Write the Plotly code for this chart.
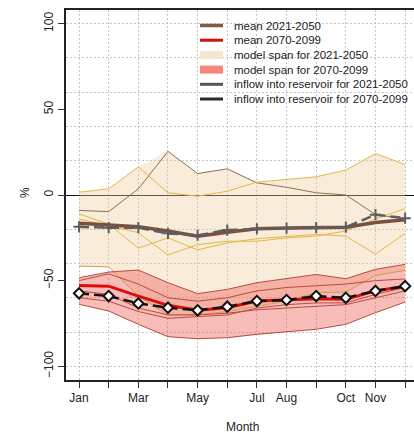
import plotly.graph_objects as go

# ---- data -------------------------------------------------------------
months = list(range(1, 13))
month_labels = ["Jan", "", "Mar", "", "May", "", "Jul", "Aug", "", "Oct", "Nov", ""]

# ensemble members, 2021-2050 (% change)
models_2021 = [
    [-9, -9.7, 3.6, 25.5, 12.5, 15.3, 7.1, 4.5, 1.3, 0, -11.4, -14],
    [1.6, 3.6, 16.4, 1.3, -0.7, 2.2, 7.5, 9, 10.6, 14.5, 24.2, 17.8],
    [-11, -17, -31, -25, -32, -28, -25.5, -24.4, -23, -24, -34.5, -22.4],
    [-14, -18, -22, -35, -29, -27, -27, -25, -24, -21, -14, -8],
    [-41.5, -42, -59, -70, -70, -68, -65, -62, -57, -56.7, -47, -44],
]
model_colors_2021 = ["#8C7248", "#E2B845", "#E2B845", "#E2B845", "#C8A050"]

# ensemble members, 2070-2099 (% change)
models_2070 = [
    [-48.3, -45, -43.8, -51.2, -57.6, -55.1, -51.2, -48.9, -46.4, -48.9, -43.4, -40.5],
    [-63.8, -67.7, -75.5, -82.7, -83.9, -83.3, -81.3, -80, -78.4, -75.5, -68.7, -62.5],
    [-50, -46, -52, -60, -62, -60, -56, -54, -53, -52, -50, -49],
    [-56, -58, -66, -70, -70, -69, -67, -66, -65, -64, -60, -56],
    [-60, -62, -68, -72, -71, -70, -66, -64, -63, -63, -58, -54],
]

mean_2021 = [-16.5, -17.5, -18.6, -21, -24, -21.7, -19.7, -19.3, -19, -18.8, -16, -14.5]
mean_2070 = [-52.8, -53.2, -59, -64.4, -67.3, -65.8, -61.9, -61.3, -60.5, -60.9, -56, -53.2]
inflow_2021 = [-18.6, -19.1, -19.1, -22.4, -23.5, -20.5, -19.7, -19.3, -19, -18.8, -11.5, -13.5]
inflow_2070 = [-57.4, -59, -63.3, -65.8, -67.3, -65.2, -61.9, -61.3, -59, -60, -56, -53.2]

legend_labels = [
    "mean 2021-2050",
    "mean 2070-2099",
    "model span for 2021-2050",
    "model span for 2070-2099",
    "inflow into reservoir for 2021-2050",
    "inflow into reservoir for 2070-2099",
]
legend_colors = ["#835A45", "#D01010", "#F7E6D2", "#F4877A", "#555555", "#2A2A2A"]
legend_widths = [3.5, 3, 8, 8, 3, 3]

# ---- geometry ---------------------------------------------------------
W, H = 414, 435
ML, MR, MT, MB = 66, 0, 10, 55
PW, PH = W - ML - MR, H - MT - MB
FONT = "Liberation Sans, Arial, sans-serif"


def px_x(px):
    return (px - ML) / PW


def px_y(py):
    return (H - MB - py) / PH


def span(members):
    lo = [min(m[i] for m in members) for i in range(12)]
    hi = [max(m[i] for m in members) for i in range(12)]
    return lo, hi


fig = go.Figure()

# shaded model spans
for members, fillcol in [(models_2021, "rgba(238,205,160,0.38)"),
                         (models_2070, "rgba(240,90,80,0.40)")]:
    lo, hi = span(members)
    fig.add_trace(go.Scatter(
        x=months + months[::-1], y=hi + lo[::-1],
        fill="toself", fillcolor=fillcol, mode="lines",
        line=dict(width=0), hoverinfo="skip", showlegend=False))

# individual ensemble members
for m, c in zip(models_2021, model_colors_2021):
    fig.add_trace(go.Scatter(x=months, y=m, mode="lines",
                             line=dict(color=c, width=1), showlegend=False))
for m in models_2070:
    fig.add_trace(go.Scatter(x=months, y=m, mode="lines",
                             line=dict(color="#B84A40", width=1), showlegend=False))

# ensemble means
fig.add_trace(go.Scatter(x=months, y=mean_2021, mode="lines",
                         line=dict(color="#7A5040", width=3.5), showlegend=False))
fig.add_trace(go.Scatter(x=months, y=mean_2070, mode="lines",
                         line=dict(color="#E00C0C", width=3), showlegend=False))

# reservoir inflow
fig.add_trace(go.Scatter(
    x=months, y=inflow_2021, mode="lines+markers",
    line=dict(color="#5E5E5E", width=2.5, dash="10px,5px"),
    marker=dict(symbol="cross-thin-open", size=8,
                line=dict(color="#5E5E5E", width=2)),
    showlegend=False))
fig.add_trace(go.Scatter(
    x=months, y=inflow_2070, mode="lines+markers",
    line=dict(color="#111111", width=2.5, dash="10px,5px"),
    marker=dict(symbol="diamond", size=8, color="white",
                line=dict(color="#111111", width=2)),
    showlegend=False))

# hand-built legend (no box)
shapes = []
annotations = []
row0, step = 25.5, 14.7
for i, (lab, col, lw) in enumerate(zip(legend_labels, legend_colors, legend_widths)):
    yy = px_y(row0 + i * step)
    shapes.append(dict(type="line", xref="paper", yref="paper",
                       x0=px_x(200), x1=px_x(223), y0=yy, y1=yy,
                       line=dict(color=col, width=lw)))
    annotations.append(dict(text=lab, xref="paper", yref="paper",
                            x=px_x(232), y=yy, xanchor="left", yanchor="middle",
                            showarrow=False, font=dict(family=FONT, size=11.5, color="#222")))

# axis titles
annotations.append(dict(text="%", xref="paper", yref="paper", x=px_x(25), y=px_y(193),
                        xanchor="center", yanchor="middle", textangle=-90, showarrow=False,
                        font=dict(family=FONT, size=12, color="#222")))
annotations.append(dict(text="Month", xref="paper", yref="paper", x=px_x(242), y=px_y(418),
                        xanchor="center", yanchor="top", showarrow=False,
                        font=dict(family=FONT, size=12, color="#222")))

fig.update_layout(
    width=W, height=H,
    margin=dict(l=ML, r=MR, t=MT, b=MB, pad=0),
    paper_bgcolor="white", plot_bgcolor="white",
    font=dict(family=FONT, size=12, color="#222"),
    showlegend=False,
    shapes=shapes, annotations=annotations,
    xaxis=dict(
        range=[0.56, 12.30], tickmode="array", tickvals=months, ticktext=month_labels,
        ticks="outside", ticklen=6, tickcolor="#333", tickwidth=1,
        showgrid=True, gridcolor="#C4C4C4", gridwidth=1, griddash="2px,2px",
        showline=True, linecolor="#222", linewidth=1.5, mirror=True,
        zeroline=False, tickfont=dict(size=12, color="#222"),
    ),
    yaxis=dict(
        range=[-108, 108], tickmode="array", tickvals=[-100, -50, 0, 50, 100],
        tickangle=-90, ticks="outside", ticklen=6, tickcolor="#333", tickwidth=1,
        showgrid=False,
        minor=dict(tickmode="array", tickvals=list(range(-100, 101, 20)), showgrid=True,
                   gridcolor="#C4C4C4", gridwidth=1, griddash="2px,2px", ticklen=0),
        showline=True, linecolor="#222", linewidth=1.5,
        zeroline=True, zerolinecolor="#111", zerolinewidth=1,
        tickfont=dict(size=12, color="#222"),
    ),
)

fig.write_html("out.html")
